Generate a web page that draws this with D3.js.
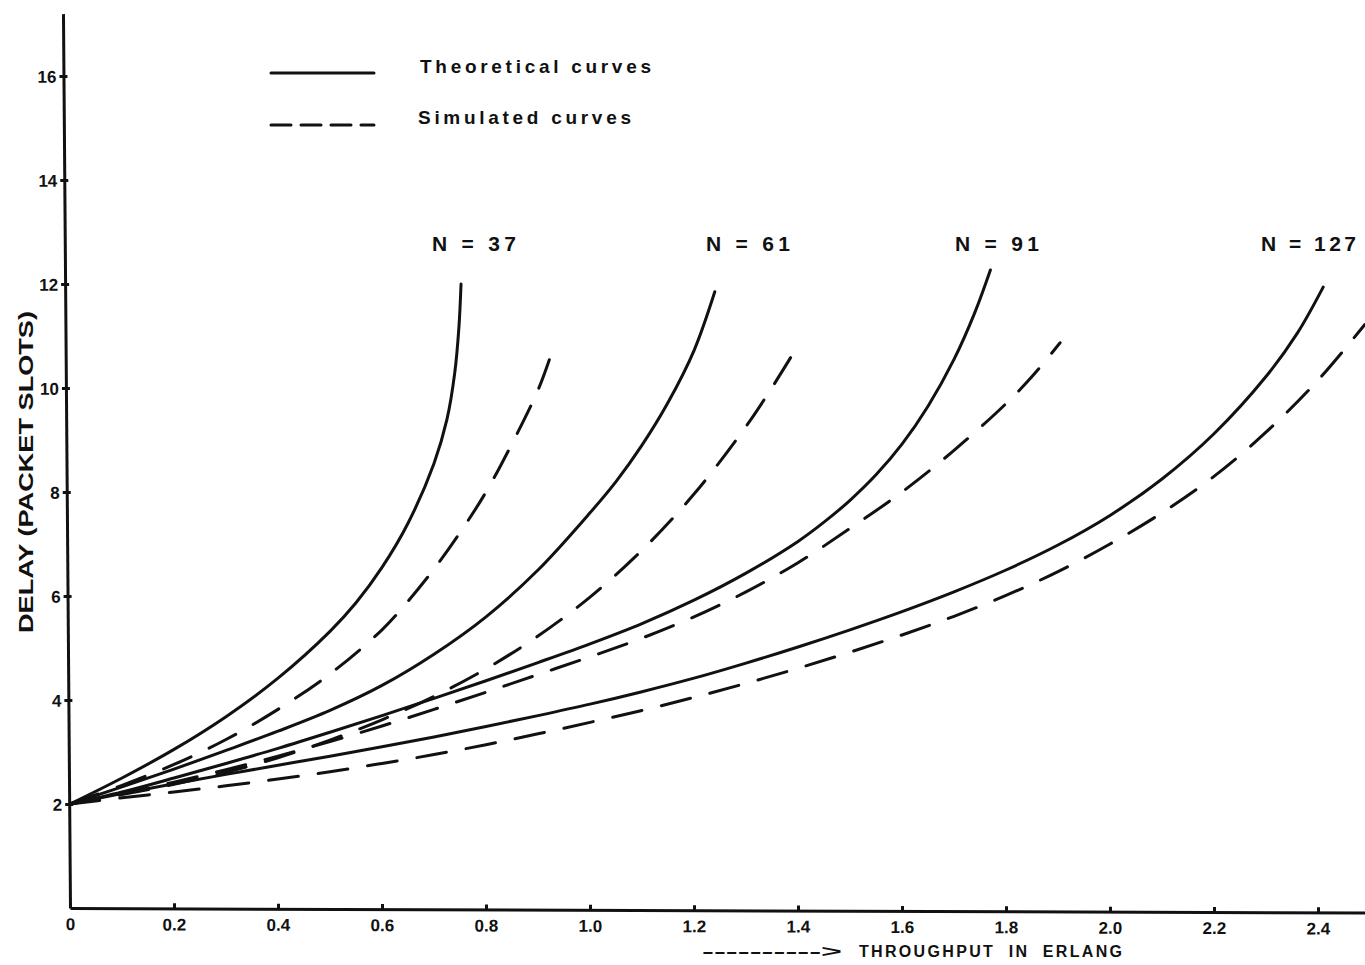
<!DOCTYPE html>
<html>
<head>
<meta charset="utf-8">
<script src="https://cdn.jsdelivr.net/npm/d3@7"></script>
<style>
html, body { margin: 0; padding: 0; background: #fff; }
svg { display: block; }
text { font-family: "Liberation Sans", Arial, sans-serif; font-weight: bold; fill: #111; }
.curve { fill: none; stroke: #111; stroke-width: 3; stroke-linecap: round; stroke-linejoin: round; }
.sim { stroke-dasharray: 30 20; }
.axis path, .axis line { stroke: #111; stroke-width: 3; }
.axis text { font-size: 17px; font-weight: bold; }
</style>
</head>
<body>
<svg id="chart" width="1365" height="965"></svg>
<script>
// tick labels
const throughput_ticks = [0, 0.2, 0.4, 0.6, 0.8, 1.0, 1.2, 1.4, 1.6, 1.8, 2.0, 2.2, 2.4];
const delay_ticks = [2, 4, 6, 8, 10, 12, 14, 16];

// curve labels (number of stations)
const n_labels = ['N = 37', 'N = 61', 'N = 91', 'N = 127'];
const legend_labels = ['Theoretical curves', 'Simulated curves'];

// [throughput, delay]
const theo_37 = [[0, 2], [0.1, 2.5], [0.2, 3.05], [0.3, 3.68], [0.4, 4.42], [0.5, 5.32], [0.55, 5.87],
    [0.6, 6.55], [0.65, 7.4], [0.7, 8.55], [0.725, 9.4], [0.74, 10.3], [0.748, 11.18], [0.752, 12.0]];
const sim_37 = [[0, 2], [0.1, 2.36], [0.2, 2.76], [0.3, 3.24], [0.4, 3.82], [0.5, 4.5], [0.6, 5.35],
    [0.65, 5.9], [0.7, 6.52], [0.75, 7.22], [0.8, 8.0], [0.85, 8.93], [0.9, 9.96], [0.923, 10.58]];

const theo_61 = [[0, 2], [0.1, 2.33], [0.2, 2.67], [0.3, 3.03], [0.4, 3.4], [0.5, 3.8], [0.6, 4.28],
    [0.7, 4.88], [0.8, 5.6], [0.9, 6.5], [1.0, 7.6], [1.05, 8.2], [1.1, 8.9], [1.15, 9.72],
    [1.2, 10.72], [1.24, 11.85]];
const sim_61 = [[0, 2], [0.1, 2.18], [0.2, 2.38], [0.3, 2.61], [0.4, 2.89], [0.5, 3.23], [0.6, 3.62],
    [0.7, 4.07], [0.8, 4.6], [0.9, 5.23], [1.0, 5.98], [1.1, 6.88], [1.2, 7.96], [1.3, 9.26],
    [1.35, 10.01], [1.388, 10.62]];

const theo_91 = [[0, 2], [0.1, 2.23], [0.2, 2.5], [0.3, 2.78], [0.4, 3.07], [0.5, 3.38], [0.6, 3.7],
    [0.7, 4.03], [0.8, 4.37], [0.9, 4.72], [1.0, 5.08], [1.1, 5.47], [1.2, 5.92], [1.3, 6.44],
    [1.4, 7.05], [1.45, 7.42], [1.5, 7.84], [1.55, 8.33], [1.6, 8.92], [1.65, 9.65], [1.7, 10.55],
    [1.74, 11.45], [1.77, 12.27]];
const sim_91 = [[0, 2], [0.1, 2.2], [0.2, 2.42], [0.3, 2.66], [0.4, 2.92], [0.5, 3.2], [0.6, 3.5],
    [0.7, 3.82], [0.8, 4.15], [0.9, 4.49], [1.0, 4.83], [1.1, 5.19], [1.2, 5.6], [1.3, 6.08],
    [1.4, 6.64], [1.5, 7.3], [1.6, 8.0], [1.7, 8.8], [1.8, 9.7], [1.85, 10.22], [1.904, 10.87]];

const theo_127 = [[0, 2], [0.1, 2.2], [0.2, 2.39], [0.3, 2.57], [0.4, 2.745], [0.5, 2.92], [0.6, 3.1],
    [0.7, 3.29], [0.8, 3.49], [0.9, 3.7], [1.0, 3.92], [1.1, 4.16], [1.2, 4.42], [1.3, 4.71],
    [1.4, 5.02], [1.5, 5.35], [1.6, 5.7], [1.7, 6.08], [1.8, 6.5], [1.9, 6.98], [2.0, 7.55],
    [2.1, 8.25], [2.2, 9.12], [2.3, 10.22], [2.36, 11.05], [2.41, 11.94]];
const sim_127 = [[0, 2], [0.1, 2.12], [0.2, 2.23], [0.3, 2.35], [0.4, 2.48], [0.5, 2.62], [0.6, 2.78],
    [0.7, 2.95], [0.8, 3.14], [0.9, 3.35], [1.0, 3.57], [1.1, 3.8], [1.2, 4.05], [1.3, 4.32],
    [1.4, 4.61], [1.5, 4.92], [1.6, 5.25], [1.7, 5.61], [1.8, 6.01], [1.9, 6.47], [2.0, 7.0],
    [2.1, 7.6], [2.2, 8.3], [2.3, 9.15], [2.4, 10.15], [2.49, 11.22]];

const theo_curves = [theo_37, theo_61, theo_91, theo_127];
const sim_curves = [sim_37, sim_61, sim_91, sim_127];

// layout
const ORIGIN_X = 70;
const ORIGIN_Y = 908;
const x = d3.scaleLinear().domain([0, 2.5]).range([ORIGIN_X, ORIGIN_X + 1300]);
const y = d3.scaleLinear().domain([0, 17.2]).range([ORIGIN_Y, ORIGIN_Y - 17.2 * 52]);

const svg = d3.select('#chart');

function draw_axes() {
    // x axis, ticks point up into the plot
    const gx = svg.append('g')
        .attr('class', 'axis')
        .attr('transform', `rotate(0.2, ${ORIGIN_X}, ${ORIGIN_Y}) translate(0, ${ORIGIN_Y})`)
        .call(d3.axisBottom(x)
            .tickValues(throughput_ticks)
            .tickFormat(d => d === 0 ? '0' : d.toFixed(1))
            .tickSize(-5)
            .tickSizeOuter(0)
            .tickPadding(10))
    ;
    gx.selectAll('.tick line').attr('stroke-width', 2);

    // y axis (slightly leaning like the original drawing)
    const gy = svg.append('g')
        .attr('class', 'axis')
        .attr('transform', `rotate(-0.45, ${ORIGIN_X}, ${ORIGIN_Y}) translate(${ORIGIN_X}, 0)`)
        .call(d3.axisLeft(y)
            .tickValues(delay_ticks)
            .tickSize(4)
            .tickSizeOuter(0)
            .tickPadding(3))
    ;
    gy.selectAll('.tick line').attr('x1', 4).attr('stroke-width', 2);
    gy.selectAll('.tick text').attr('dy', '0.36em');

    // axis titles
    svg.append('text')
        .attr('transform', 'translate(33, 472) rotate(-90)')
        .attr('text-anchor', 'middle')
        .attr('font-size', 21)
        .attr('textLength', 322)
        .attr('lengthAdjust', 'spacingAndGlyphs')
        .text('DELAY (PACKET SLOTS)')
    ;
    svg.append('text')
        .attr('x', 702)
        .attr('y', 957)
        .attr('font-size', 16)
        .attr('textLength', 140)
        .attr('lengthAdjust', 'spacingAndGlyphs')
        .text('---------->')
    ;
    svg.append('text')
        .attr('x', 859)
        .attr('y', 957)
        .attr('font-size', 16)
        .attr('textLength', 263)
        .attr('lengthAdjust', 'spacing')
        .style('white-space', 'pre')
        .text('THROUGHPUT  IN  ERLANG')
    ;
}

function draw_curves() {
    const line = d3.line()
        .x(d => x(d[0]))
        .y(d => y(d[1]))
        .curve(d3.curveCatmullRom.alpha(0.5))
    ;
    svg.append('g')
        .selectAll('path')
        .data(theo_curves)
        .join('path')
        .attr('class', 'curve')
        .attr('d', line)
    ;
    svg.append('g')
        .selectAll('path')
        .data(sim_curves)
        .join('path')
        .attr('class', 'curve sim')
        .attr('d', line)
    ;

    // N = .. labels above each pair
    const label_x = [432, 706, 955, 1261];
    svg.append('g')
        .selectAll('text')
        .data(n_labels)
        .join('text')
        .attr('x', (d, i) => label_x[i])
        .attr('y', 251)
        .attr('font-size', 21)
        .attr('textLength', (d, i) => i === 3 ? 95 : 84)
        .attr('lengthAdjust', 'spacing')
        .text(d => d)
    ;
}

function draw_legend() {
    const rows = [{ y: 73, dash: null }, { y: 125, dash: '20 10' }];
    rows.forEach((r, i) => {
        svg.append('line')
            .attr('x1', 271)
            .attr('x2', 374)
            .attr('y1', r.y)
            .attr('y2', r.y)
            .attr('class', 'curve')
            .attr('stroke-dasharray', r.dash)
        ;
        svg.append('text')
            .attr('x', i === 0 ? 420 : 418)
            .attr('y', i === 0 ? 73 : 124)
            .attr('font-size', 19)
            .attr('textLength', i === 0 ? 231 : 213)
            .attr('lengthAdjust', 'spacing')
            .text(legend_labels[i])
        ;
    });
}

draw_axes();
draw_curves();
draw_legend();
</script>
</body>
</html>
